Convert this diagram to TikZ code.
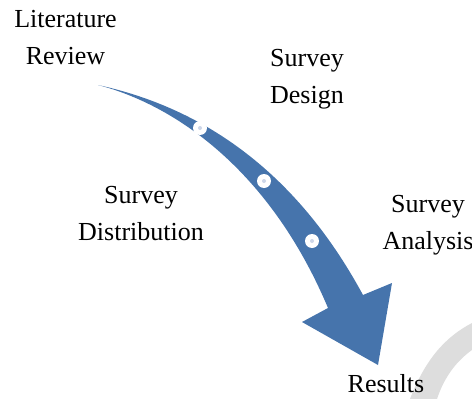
\documentclass[tikz,border=0pt]{standalone}
\usepackage{fontspec}
\setmainfont{Liberation Serif}
\definecolor{arrowblue}{RGB}{70,116,172}
\definecolor{ringgrey}{RGB}{221,221,221}
\definecolor{dotblue}{RGB}{205,214,232}
\tikzset{
  stage/.style={align=center,anchor=base,inner sep=0pt,font=\fontsize{26}{37}\selectfont},
  marker/.style={circle,fill=white,inner sep=0pt,minimum size=14pt},
}
\begin{document}
\begin{tikzpicture}[x=1pt,y=-1pt]
\useasboundingbox (0,0) rectangle (472,399);
\begin{scope}
\clip (0,0) rectangle (472,399);
\fill[ringgrey] (410,399) .. controls (425,360) and (445,337) .. (472,323) -- (472,350) .. controls (458,360) and (445,375) .. (437,399) -- cycle;
\end{scope}
\fill[arrowblue] (98,85) .. controls (190,105) and (290,160) .. (363,295) -- (392,283) -- (378,365) -- (302,322) -- (328,308) .. controls (270,170) and (175,105) .. (98,85) -- cycle;
\foreach \m/\pos in {m1/{(200,128)},m2/{(264,181)},m3/{(312,241)}}{
  \node[marker] (\m) at \pos {};
  \fill[dotblue] (\m) circle (2);
}
\node[stage] (lit) at (65.5,64) {Literature\\Review};
\node[stage] (design) at (307,103) {Survey\\Design};
\node[stage] (distrib) at (141,240) {Survey\\Distribution};
\node[stage] (analysis) at (428,249) {Survey\\Analysis};
\node[stage] (results) at (386,392) {Results};
\end{tikzpicture}
\end{document}
